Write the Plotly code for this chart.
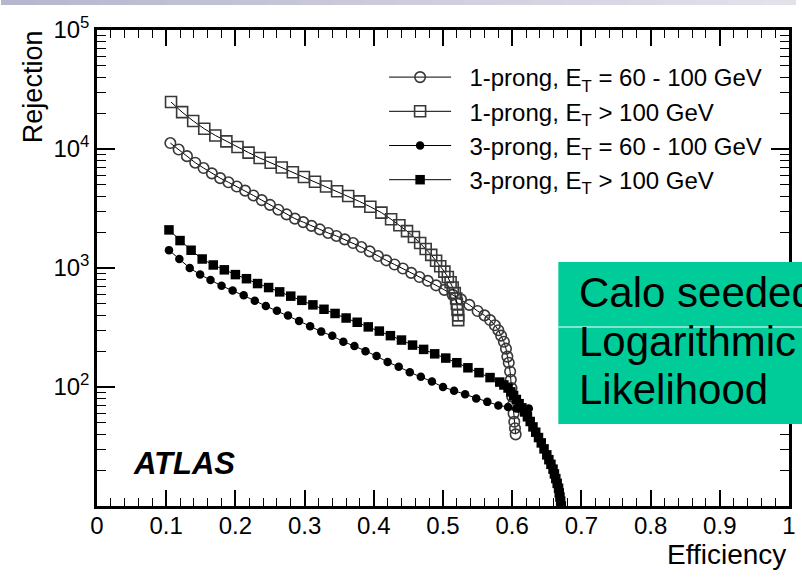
import plotly.graph_objects as go

# Tau identification performance: background rejection vs. signal efficiency
eff_1p_lo = [0.106, 0.118, 0.130, 0.142, 0.154, 0.166, 0.178, 0.190, 0.202, 0.214,
             0.226, 0.238, 0.250, 0.262, 0.274, 0.286, 0.298, 0.310, 0.322, 0.334,
             0.346, 0.358, 0.370, 0.382, 0.394, 0.406, 0.418, 0.430, 0.442, 0.454,
             0.466, 0.478, 0.490, 0.502, 0.514, 0.526, 0.538, 0.550, 0.560, 0.568,
             0.575, 0.580, 0.584, 0.588, 0.591, 0.593, 0.595, 0.597, 0.598, 0.599,
             0.600, 0.601, 0.602, 0.603, 0.604, 0.605]
rej_1p_lo = [11220, 9890, 8710, 7670, 6920, 6240, 5690, 5250, 4840, 4470,
             4070, 3720, 3390, 3090, 2820, 2600, 2430, 2260, 2110, 1970,
             1860, 1740, 1620, 1500, 1380, 1260, 1160, 1070, 990, 910,
             840, 780, 715, 655, 595, 545, 490, 435, 400, 365,
             330, 300, 270, 240, 210, 180, 160, 135, 115, 98,
             83, 71, 60, 51, 45, 40]

eff_1p_hi = [0.107, 0.123, 0.139, 0.155, 0.171, 0.187, 0.203, 0.219, 0.235, 0.251,
             0.267, 0.283, 0.299, 0.315, 0.331, 0.347, 0.363, 0.379, 0.395, 0.411,
             0.425, 0.437, 0.448, 0.458, 0.467, 0.475, 0.483, 0.490, 0.496, 0.502,
             0.507, 0.511, 0.514, 0.517, 0.519, 0.520, 0.521, 0.522, 0.522]
rej_1p_hi = [24800, 20400, 17200, 14800, 13000, 11600, 10400, 9330, 8410, 7670,
             7000, 6380, 5820, 5310, 4840, 4420, 4030, 3630, 3270, 2920,
             2570, 2290, 2040, 1820, 1620, 1445, 1290, 1150, 1035, 933,
             840, 760, 685, 615, 555, 500, 445, 400, 365]

eff_3p_lo = [0.104, 0.119, 0.134, 0.149, 0.164, 0.180, 0.196, 0.212, 0.228, 0.244,
             0.260, 0.276, 0.292, 0.308, 0.324, 0.340, 0.356, 0.372, 0.388, 0.404,
             0.420, 0.436, 0.452, 0.468, 0.484, 0.500, 0.516, 0.532, 0.548, 0.564,
             0.580, 0.594, 0.606, 0.616, 0.624]
rej_3p_lo = [1413, 1189, 1000, 881, 794, 708, 646, 589, 531, 479,
             437, 398, 359, 324, 292, 269, 240, 221, 200, 182,
             162, 148, 133, 122, 111, 100, 93, 87, 80, 75,
             70, 68, 66, 66, 66]

eff_3p_hi = [0.104, 0.120, 0.136, 0.152, 0.168, 0.184, 0.200, 0.216, 0.232, 0.248,
             0.264, 0.280, 0.296, 0.312, 0.328, 0.344, 0.360, 0.376, 0.392, 0.408,
             0.424, 0.440, 0.456, 0.472, 0.488, 0.504, 0.520, 0.536, 0.552, 0.568,
             0.582, 0.588, 0.594, 0.598, 0.602, 0.606, 0.610, 0.614, 0.618, 0.622,
             0.626, 0.630, 0.634, 0.638, 0.642, 0.646, 0.650, 0.653, 0.656, 0.659,
             0.661, 0.663, 0.665, 0.667, 0.668, 0.669, 0.670, 0.671]
rej_3p_hi = [2090, 1700, 1410, 1190, 1060, 965, 880, 813, 740, 685,
             630, 580, 535, 490, 450, 415, 380, 350, 320, 295,
             270, 248, 225, 207, 190, 175, 160, 145, 132, 120,
             110, 104, 98, 91, 85, 78.5, 72.4, 66.8, 61.7, 56.2,
             51.3, 46.2, 41.7, 37.6, 33.9, 30.2, 26.9, 24.5, 22.4, 20.4,
             18.6, 17.0, 15.5, 14.1, 12.9, 11.9, 11.0, 10.0]

series_names = [
    "1-prong, E<sub>T</sub> = 60 - 100 GeV",
    "1-prong, E<sub>T</sub> > 100 GeV",
    "3-prong, E<sub>T</sub> = 60 - 100 GeV",
    "3-prong, E<sub>T</sub> > 100 GeV",
]
x_ticks = [0, 0.1, 0.2, 0.3, 0.4, 0.5, 0.6, 0.7, 0.8, 0.9, 1]
x_tick_text = ["0", "0.1", "0.2", "0.3", "0.4", "0.5", "0.6", "0.7", "0.8", "0.9", "1"]
y_ticks = [1e2, 1e3, 1e4, 1e5]
y_tick_text = ["10<sup>2</sup>", "10<sup>3</sup>", "10<sup>4</sup>", "10<sup>5</sup>"]

FONT = "Liberation Sans, Arial, Helvetica, sans-serif"
W, H = 802, 579
L, R, T, B = 97, 6, 30, 73
PW, PH = W - L - R, H - T - B

styles = [
    dict(symbol="circle-open", size=10.5, color="#383838", lw=1.6),
    dict(symbol="square-open", size=11, color="#383838", lw=1.6),
    dict(symbol="circle", size=8.5, color="black", lw=0),
    dict(symbol="square", size=9.5, color="black", lw=0),
]
data = [(eff_1p_lo, rej_1p_lo), (eff_1p_hi, rej_1p_hi),
        (eff_3p_lo, rej_3p_lo), (eff_3p_hi, rej_3p_hi)]

# a small gap between the legend sample line and its label
GAP = "\u00a0\u00a0"

fig = go.Figure()
for name, (xs, ys), st in zip(series_names, data, styles):
    fig.add_trace(go.Scatter(
        x=xs, y=ys, mode="lines+markers", name=GAP + name,
        line=dict(color="black", width=1),
        marker=dict(symbol=st["symbol"], size=st["size"], color=st["color"],
                    line=dict(width=st["lw"], color=st["color"])),
    ))


def px_x(p):
    # pixel column -> paper x (paper spans the plotting area)
    return (p - L) / PW


def px_y(p):
    # pixel row -> paper y
    return (H - B - p) / PH


shapes = []
# slide header strip with a soft horizontal gradient
n_seg = 24
c0 = (182, 182, 206)
c1 = (226, 226, 234)
for i in range(n_seg):
    t = i / (n_seg - 1)
    col = tuple(int(round(a + (b - a) * t)) for a, b in zip(c0, c1))
    shapes.append(dict(type="rect", xref="paper", yref="paper",
                       x0=px_x(W * i / n_seg), x1=px_x(W * (i + 1) / n_seg + 1),
                       y0=px_y(5), y1=px_y(0), line=dict(width=0),
                       fillcolor="rgb(%d,%d,%d)" % col, layer="above"))

# green caption panel
shapes.append(dict(type="rect", xref="paper", yref="paper",
                   x0=px_x(563), x1=px_x(830), y0=px_y(424), y1=px_y(262),
                   line=dict(width=0), fillcolor="#00CC99", layer="above"))
shapes.append(dict(type="line", xref="paper", yref="paper",
                   x0=px_x(563), x1=px_x(830), y0=px_y(327), y1=px_y(327),
                   line=dict(width=1, color="white"), layer="above"))

annotations = []
for txt, base in [("Calo seeded", 308), ("Logarithmic", 357), ("Likelihood", 405)]:
    annotations.append(dict(text=txt, xref="paper", yref="paper",
                            x=px_x(582), y=px_y(base + 10), xanchor="left", yanchor="bottom",
                            showarrow=False, font=dict(family=FONT, size=42, color="black")))

annotations.append(dict(text="<b><i>ATLAS</i></b>", xref="paper", yref="paper",
                        x=px_x(131), y=px_y(463), xanchor="left", yanchor="middle",
                        showarrow=False, font=dict(family=FONT, size=31, color="black")))
annotations.append(dict(text="Efficiency", xref="paper", yref="paper",
                        x=px_x(795), y=px_y(554), xanchor="right", yanchor="middle",
                        showarrow=False, font=dict(family=FONT, size=28, color="black")))
annotations.append(dict(text="Rejection", xref="paper", yref="paper", textangle=-90,
                        x=px_x(32), y=px_y(28), xanchor="center", yanchor="top",
                        showarrow=False, font=dict(family=FONT, size=27, color="black")))

fig.update_layout(
    width=W, height=H,
    margin=dict(l=L, r=R, t=T, b=B, pad=0),
    paper_bgcolor="white", plot_bgcolor="white",
    font=dict(family=FONT, size=24, color="black"),
    showlegend=True,
    legend=dict(x=px_x(387), y=px_y(55), xanchor="left", yanchor="top",
                bgcolor="rgba(0,0,0,0)", borderwidth=0,
                font=dict(family=FONT, size=24, color="black"),
                itemwidth=62, tracegroupgap=0),
    shapes=shapes,
    annotations=annotations,
)

fig.update_xaxes(
    range=[0, 1], showgrid=False, zeroline=False,
    showline=True, linewidth=2.5, linecolor="black", mirror="allticks",
    ticks="inside", ticklen=16, tickwidth=1.5, tickcolor="black",
    tickmode="array", tickvals=x_ticks, ticktext=x_tick_text,
    tickfont=dict(family=FONT, size=24, color="black"),
    ticklabelstandoff=-4,
    minor=dict(ticks="inside", ticklen=8, tickwidth=1.2, tickcolor="black", dtick=0.02, showgrid=False),
)
fig.update_yaxes(
    type="log", range=[1, 5], showgrid=False, zeroline=False,
    showline=True, linewidth=2.5, linecolor="black", mirror="allticks",
    ticks="inside", ticklen=18, tickwidth=1.5, tickcolor="black",
    tickmode="array", tickvals=y_ticks, ticktext=y_tick_text,
    tickfont=dict(family=FONT, size=24, color="black"),
    minor=dict(ticks="inside", ticklen=9, tickwidth=1.2, tickcolor="black", dtick="D1", showgrid=False),
)

fig.write_html("out.html")
